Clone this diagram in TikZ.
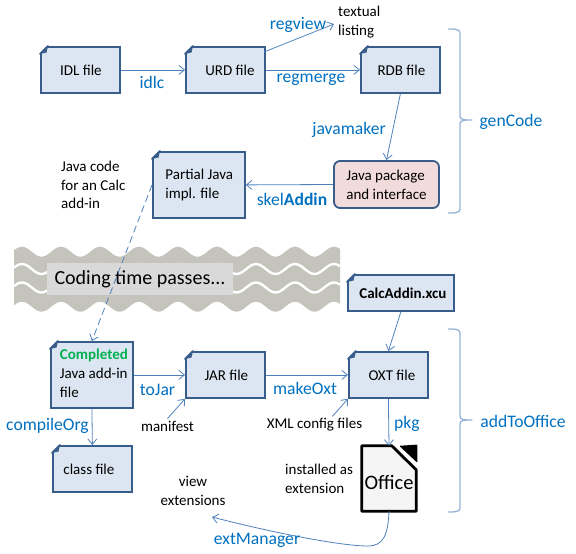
\documentclass[tikz,border=0pt]{standalone}
\usepackage{fontspec}
\setmainfont{Carlito}
\usetikzlibrary{arrows.meta}
\definecolor{edgeblue}{HTML}{4F81BD}
\definecolor{boxline}{HTML}{385D8A}
\definecolor{boxfill}{HTML}{DCE6F2}
\definecolor{pinkfill}{HTML}{F2DCDB}
\definecolor{labelblue}{HTML}{0070C0}
\definecolor{bracecol}{HTML}{95B3D7}
\definecolor{wavegray}{HTML}{C4C4BC}
\definecolor{textgray}{HTML}{D9D9D9}
\definecolor{donegreen}{HTML}{00B050}
\newcommand{\dogear}[1]{%
  \fill[white] ([shift={(-1.5,-1.5)}]#1.north west) -- ([shift={(9,-1.5)}]#1.north west) -- ([shift={(-1.5,9)}]#1.north west) -- cycle;
  \draw[boxline,line width=1.8pt,line join=round,line cap=round] ([xshift=8]#1.north west) -- ([yshift=-8]#1.north west);
  \fill[boxline] ([xshift=8]#1.north west) -- ([yshift=-8]#1.north west) -- ([shift={(6.5,6.5)}]#1.north west) -- cycle;
}
\tikzset{
  x=1pt,y=-1pt,
  docbox/.style={draw=boxline,fill=boxfill,line width=1.8pt,inner sep=0pt,font=\fontsize{15}{18.7}\selectfont,align=left,anchor=north west},
  roundbox/.style={draw=boxline,fill=pinkfill,line width=1.8pt,inner sep=0pt,rounded corners=6,font=\fontsize{15}{18.7}\selectfont,align=left},
  conn/.style={draw=edgeblue,line width=0.8pt,-{Straight Barb[length=5.5pt,width=9pt,line width=0.8pt]}},
  actionlabel/.style={text=labelblue,font=\fontsize{17.6}{20}\selectfont,inner sep=0pt,yshift=-1.5pt},
  plaintext/.style={font=\fontsize{15}{18.7}\selectfont,inner sep=0pt,align=left},
  bracket/.style={draw=bracecol,line width=1.3pt,line join=round},
}
\begin{document}
\begin{tikzpicture}
\useasboundingbox (0,0) rectangle (576,554);
% wave banner
\fill[wavegray] plot[domain=14:340,samples=170] (\x,{251.7-5*cos(9.23*(\x-22))})
  -- plot[domain=340:14,samples=170] (\x,{306.7-5*cos(9.23*(\x-22))}) -- cycle;
\draw[white,line width=2.4pt] plot[domain=14:340,samples=170] (\x,{269-5*cos(9.23*(\x-22))});
\draw[white,line width=2.4pt] plot[domain=14:340,samples=170] (\x,{287.5-5*cos(9.23*(\x-22))});
\node[fill=textgray,minimum width=186,minimum height=32,inner sep=0pt,font=\fontsize{20}{24}\selectfont] (coding) at (140,279) {Coding time passes...};
% boxes
\node[docbox,minimum width=79,minimum height=46] (idl) at (40,46) {\hspace*{1pt}IDL file};
\node[docbox,minimum width=79,minimum height=46] (urd) at (185,46) {\hspace*{9pt}URD file};
\node[docbox,minimum width=79,minimum height=46] (rdb) at (360,46) {\hspace*{2pt}RDB file};
\node[docbox,minimum width=92,minimum height=66] (partial) at (152,151) {\hspace*{3pt}Partial Java\\\hspace*{3pt}impl. file\hspace*{16pt}};
\node[roundbox,minimum width=105,minimum height=47] (pkgbox) at (386.5,184.5) {Java package\\and interface};
\node[docbox,minimum width=106,minimum height=36,font=\fontsize{15}{18.7}\selectfont\bfseries] (xcu) at (347,274) {\hspace*{4pt}CalcAddin.xcu};
\node[docbox,minimum width=79,minimum height=46] (oxt) at (348,351) {\hspace*{7pt}OXT file};
\node[docbox,minimum width=82,minimum height=66] (completed) at (50,341) {\hspace*{4pt}\raisebox{3.5pt}{\begin{tabular}{@{}l@{}}\textcolor{donegreen}{\textbf{Completed}}\\Java add-in\\file\end{tabular}}};
\node[docbox,minimum width=79,minimum height=46] (jar) at (185,351) {\hspace*{2pt}JAR file};
\node[docbox,minimum width=79,minimum height=46] (classfile) at (52,445) {class file\hspace*{7pt}};
\dogear{idl}\dogear{urd}\dogear{rdb}\dogear{partial}\dogear{xcu}\dogear{oxt}\dogear{completed}\dogear{jar}\dogear{classfile}
% office icon
\node[minimum width=54,minimum height=65,inner sep=0pt] (office) at (389,478.5) {};
\fill[black,rounded corners=1pt] ([xshift=-17]office.north east) -- ([xshift=1.2,yshift=1.2]office.north east) -- ([yshift=-17,xshift=1.2]office.north east) -- cycle;
\draw[black,line width=2.8pt,fill=white!96!black,line join=round] (office.north west) -- ([xshift=30]office.north west) -- ([yshift=-24]office.north east) -- (office.south east) -- (office.south west) -- cycle;
\node[font=\fontsize{20.5}{24}\selectfont,inner sep=0pt] (officetext) at (389,482) {Office};
% plain texts
\node[plaintext,anchor=west] (textual) at (338,22) {textual\\listing};
\node[plaintext,anchor=west] (javacode) at (61,185) {Java code\\for an Calc\\add-in};
\node[plaintext,anchor=center] (manifest) at (167.5,426) {manifest};
\node[plaintext,anchor=center] (xmlcfg) at (314.5,425) {XML config files};
\node[plaintext,anchor=west] (installed) at (285,478.5) {installed as\\extension};
\node[plaintext,anchor=center,align=center] (viewext) at (193,491) {view\\extensions};
% connectors
\path[conn] (idl.east) -- (urd.west);
\path[conn] (urd.east) -- (rdb.west);
\coordinate (urdout) at (264,52);
\coordinate (textin) at (334,24);
\path[conn] (urdout) -- (textin);
\path[conn] (rdb.south) -- (pkgbox.north);
\path[conn] (pkgbox.west) -- (partial.east);
\path[conn,dash pattern=on 7pt off 4pt] (partial.west) -- (completed.north);
\path[conn] (completed.south) -- (classfile.north);
\path[conn] (completed.east|-jar.west) -- (jar.west);
\path[conn] (jar.east) -- (oxt.west);
\path[conn] (manifest.north) ++(0,-2) -- (jar.south west);
\path[conn] (xmlcfg.north) ++(18,-2) -- (oxt.south west);
\path[conn] (xcu.south) -- (oxt.north);
\path[conn] (oxt.south) -- (office.north);
\coordinate (viewin) at (212,517);
\path[conn] (office.south) .. controls (388,534) and (384,546) .. (368,546) .. controls (340,546) and (270,532) .. (viewin);
% action labels
\node[actionlabel] (lregview) at (298,23) {regview};
\node[actionlabel] (lidlc) at (152,81) {idlc};
\node[actionlabel] (lregmerge) at (311,78) {regmerge};
\node[actionlabel] (ljavamaker) at (349,128) {javamaker};
\node[actionlabel] (lskel) at (292,198) {skel\textbf{Addin}};
\node[actionlabel] (lgencode) at (511,120) {genCode};
\node[actionlabel] (ltojar) at (157.5,388) {toJar};
\node[actionlabel] (lcompile) at (47.5,424) {compileOrg};
\node[actionlabel] (lmakeoxt) at (305,387) {makeOxt};
\node[actionlabel] (lpkg) at (407,422) {pkg};
\node[actionlabel] (lext) at (257,539) {extManager};
\node[actionlabel] (laddto) at (523,420) {addToOffice};
% braces
\draw[bracket] (448,29) .. controls (455,29) and (460,29) .. (460,33) -- (460,116) .. controls (460,120) and (464,120) .. (472,120) .. controls (464,120) and (460,120) .. (460,124) -- (460,209) .. controls (460,213) and (455,213) .. (448,213);
\draw[bracket] (448,329) .. controls (455,329) and (460,329) .. (460,333) -- (460,416) .. controls (460,420) and (464,420) .. (472,420) .. controls (464,420) and (460,420) .. (460,424) -- (460,508) .. controls (460,512) and (455,512) .. (448,512);
\end{tikzpicture}
\end{document}
